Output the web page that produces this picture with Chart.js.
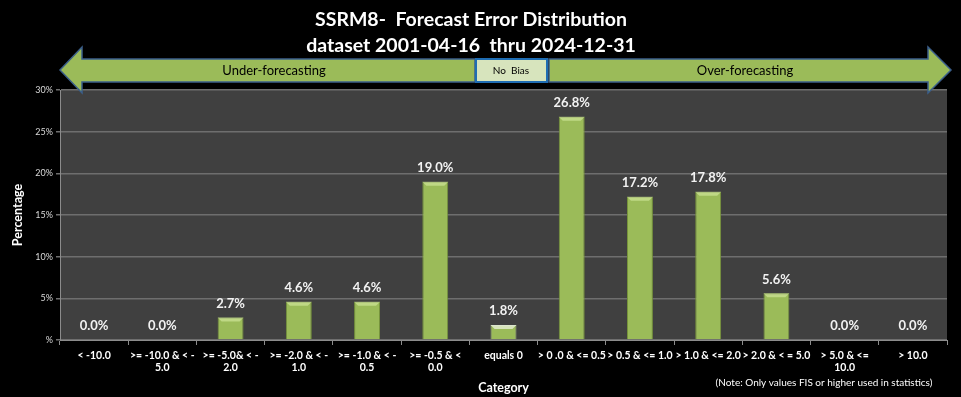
<!DOCTYPE html>
<html>
<head>
<meta charset="utf-8">
<script src="https://cdn.jsdelivr.net/npm/chart.js@4"></script>
<style>
  html, body { margin: 0; padding: 0; background: #000; }
  #wrap { width: 961px; height: 397px; }
</style>
</head>
<body>
<div id="wrap"><canvas id="errChart" width="961" height="397"></canvas></div>
<script>
// chart data
const categories = [
  "< -10.0",
  [">= -10.0 & < -", "5.0"],
  [">= -5.0& < -", "2.0"],
  [">= -2.0 & < -", "1.0"],
  [">= -1.0 & < -", "0.5"],
  [">= -0.5 & <", "0.0"],
  "equals 0",
  "> 0 .0 & <= 0.5",
  "> 0.5 & <= 1.0",
  "> 1.0 & <= 2.0",
  "> 2.0 & < = 5.0",
  ["> 5.0 & <=", "10.0"],
  "> 10.0"
];
const percentages = [0.0, 0.0, 2.7, 4.6, 4.6, 19.0, 1.8, 26.8, 17.2, 17.8, 5.6, 0.0, 0.0];
const yTicks = [0, 5, 10, 15, 20, 25, 30];
const titleLines = ["SSRM8-  Forecast Error Distribution", "dataset 2001-04-16  thru 2024-12-31"];
const noBiasIndex = 6;

const FONT = "Lato, 'Open Sans', sans-serif";

// black page + dark plot area
const backdrop = {
  id: "backdrop",
  beforeDraw(chart) {
    const { ctx, chartArea: a } = chart;
    ctx.save();
    ctx.fillStyle = "#000";
    ctx.fillRect(0, 0, chart.width, chart.height);
    ctx.fillStyle = "#404040";
    ctx.fillRect(a.left, a.top, a.right - a.left, a.bottom - a.top);
    ctx.restore();
  }
};

// title, bias arrows, note
const decorations = {
  id: "decorations",
  afterDraw(chart) {
    const { ctx } = chart;
    ctx.save();
    ctx.fillStyle = "#fff";
    ctx.textAlign = "center";
    ctx.textBaseline = "middle";
    ctx.font = "bold 19.5px " + FONT;
    ctx.fillText(titleLines[0], 471, 20);
    ctx.fillText(titleLines[1], 471, 46);

    ctx.lineWidth = 1.5;
    ctx.strokeStyle = "#3b5f8a";
    ctx.fillStyle = "#9bbb59";
    // left arrow
    ctx.beginPath();
    ctx.moveTo(60, 70);
    ctx.lineTo(82, 47);
    ctx.lineTo(82, 59);
    ctx.lineTo(475, 59);
    ctx.lineTo(475, 82);
    ctx.lineTo(82, 82);
    ctx.lineTo(82, 93);
    ctx.closePath();
    ctx.fill();
    ctx.stroke();
    // right arrow
    ctx.beginPath();
    ctx.moveTo(549, 59);
    ctx.lineTo(928, 59);
    ctx.lineTo(928, 47);
    ctx.lineTo(951, 70);
    ctx.lineTo(928, 93);
    ctx.lineTo(928, 82);
    ctx.lineTo(549, 82);
    ctx.closePath();
    ctx.fill();
    ctx.stroke();
    // no bias box
    ctx.fillStyle = "#d7e4bd";
    ctx.strokeStyle = "#1f6db3";
    ctx.lineWidth = 2;
    ctx.fillRect(476, 59, 71, 23);
    ctx.strokeRect(476, 59, 71, 23);

    ctx.fillStyle = "#000";
    ctx.font = "13px " + FONT;
    ctx.fillText("Under-forecasting", 274, 71);
    ctx.fillText("Over-forecasting", 745, 71);
    ctx.font = "10px " + FONT;
    ctx.fillText("No  Bias", 511, 71);

    ctx.fillStyle = "#fff";
    ctx.font = "10px " + FONT;
    ctx.fillText("(Note: Only values FIS or higher used in statistics)", 824, 383);
    ctx.restore();
  }
};

// bevel on top of bars + value labels
const barLabels = {
  id: "barLabels",
  afterDatasetsDraw(chart) {
    const { ctx } = chart;
    const meta = chart.getDatasetMeta(0);
    ctx.save();
    meta.data.forEach((bar, i) => {
      const w = bar.width;
      const h = bar.base - bar.y;
      if (h > 3) {
        ctx.fillStyle = i === noBiasIndex ? "rgba(255,255,255,0.6)" : "rgba(220,240,170,0.55)";
        ctx.beginPath();
        ctx.moveTo(bar.x - w / 2, bar.y);
        ctx.lineTo(bar.x + w / 2, bar.y);
        ctx.lineTo(bar.x + w / 2 - 4, bar.y + 4);
        ctx.lineTo(bar.x - w / 2 + 4, bar.y + 4);
        ctx.closePath();
        ctx.fill();
      }
      ctx.fillStyle = "#f2f2f2";
      ctx.font = "bold 13px " + FONT;
      ctx.textAlign = "center";
      ctx.textBaseline = "middle";
      ctx.fillText(percentages[i].toFixed(1) + "%", bar.x, bar.y - 14);
    });
    ctx.restore();
  }
};

function barFill(context) {
  const chart = context.chart;
  const el = context.element;
  if (!chart.chartArea || !el) return "#9bbb59";
  const i = context.dataIndex;
  const x0 = el.x - el.width / 2, x1 = el.x + el.width / 2;
  if (!isFinite(x0) || !isFinite(x1)) return "#9bbb59";
  const g = chart.ctx.createLinearGradient(x0, 0, x1, 0);
  if (i === noBiasIndex) {
    g.addColorStop(0, "#c4d6a0");
    g.addColorStop(0.5, "#e0ebcc");
    g.addColorStop(1, "#c4d6a0");
  } else {
    g.addColorStop(0, "#8eae4f");
    g.addColorStop(0.5, "#a2c260");
    g.addColorStop(1, "#8eae4f");
  }
  return g;
}

const ctx = document.getElementById("errChart").getContext("2d");
const errChart = new Chart(ctx, {
  type: "bar",
  data: {
    labels: categories,
    datasets: [{
      data: percentages,
      backgroundColor: barFill,
      borderColor: percentages.map((v, i) => i === noBiasIndex ? "#a9bf86" : "#76933c"),
      borderWidth: 1,
      borderSkipped: "bottom",
      barPercentage: 0.38,
      categoryPercentage: 1.0
    }]
  },
  options: {
    responsive: false,
    animation: false,
    devicePixelRatio: 1,
    layout: { padding: { top: 90, right: 14, left: 0, bottom: 0 } },
    plugins: {
      legend: { display: false },
      title: { display: false },
      tooltip: { enabled: false }
    },
    scales: {
      x: {
        offset: true,
        grid: {
          offset: true,
          drawOnChartArea: false,
          color: "#8c8c8c",
          tickLength: 5
        },
        border: { color: "#8c8c8c" },
        ticks: {
          color: "#fff",
          font: { family: FONT, size: 10.5, weight: "bold" },
          maxRotation: 0,
          autoSkip: false,
          padding: 4
        },
        title: {
          display: true,
          text: "Category",
          color: "#fff",
          font: { family: FONT, size: 12.5, weight: "bold" },
          padding: { top: 0, bottom: 2 }
        },
        afterFit(scale) { scale.height = 57; }
      },
      y: {
        min: 0,
        max: 30,
        afterBuildTicks(scale) { scale.ticks = yTicks.map(v => ({ value: v })); },
        grid: {
          color: "#6e6e6e",
          lineWidth: 1.5,
          tickLength: 4
        },
        border: { color: "#8c8c8c" },
        ticks: {
          color: "#d9d9d9",
          font: { family: FONT, size: 9 },
          padding: 3,
          callback: v => v === 0 ? "%" : v + "%"
        },
        title: {
          display: true,
          text: "Percentage",
          color: "#fff",
          font: { family: FONT, size: 12.5, weight: "bold" },
          padding: { top: 10, bottom: 0 }
        },
        afterFit(scale) { scale.width = 60; }
      }
    }
  },
  plugins: [backdrop, decorations, barLabels]
});
</script>
</body>
</html>
